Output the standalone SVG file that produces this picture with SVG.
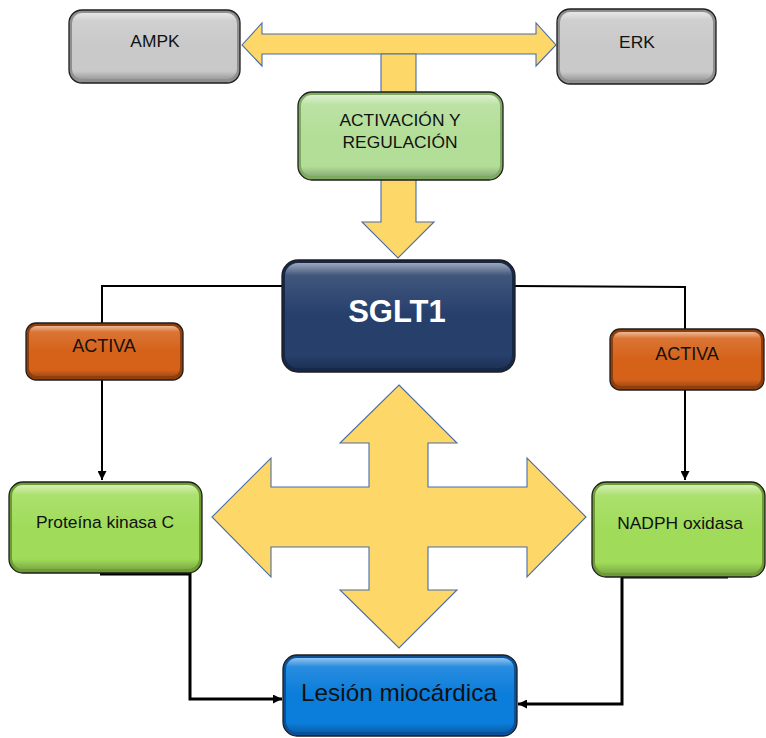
<svg xmlns="http://www.w3.org/2000/svg" width="766" height="738" viewBox="0 0 766 738">
  <defs>
    <linearGradient id="bevel" x1="0" y1="0" x2="0" y2="1">
      <stop offset="0" stop-color="#ffffff" stop-opacity="0.55"/>
      <stop offset="0.12" stop-color="#ffffff" stop-opacity="0.12"/>
      <stop offset="0.5" stop-color="#ffffff" stop-opacity="0"/>
      <stop offset="0.88" stop-color="#000000" stop-opacity="0"/>
      <stop offset="1" stop-color="#000000" stop-opacity="0.22"/>
    </linearGradient>
    <marker id="head" viewBox="0 0 10 10" refX="10" refY="5" markerWidth="9" markerHeight="9" markerUnits="userSpaceOnUse" orient="auto">
      <path d="M0,0 L10,5 L0,10 z" fill="#000"/>
    </marker>
    <style>
      .frame { stroke: #1e1e1e; stroke-width: 1.3; }
      .face { stroke: none; }
      .gloss { fill: url(#bevel); stroke: none; }
      .gray .frame { fill: #8f8f8f; } .gray .face { fill: #c9c9c9; }
      .lgreen .frame { fill: #7faa62; } .lgreen .face { fill: #b3de98; }
      .navy .frame { fill: #16284a; } .navy .face { fill: #263f6b; }
      .orange .frame { fill: #8f3e0c; } .orange .face { fill: #d6621a; }
      .green .frame { fill: #6d9c33; } .green .face { fill: #a0dc5a; }
      .blue .frame { fill: #0a519a; } .blue .face { fill: #0b7ddb; }
      text { font-family: "Liberation Sans", Arial, sans-serif; text-anchor: middle; fill: #111; }
      .lbl { font-size: 17.4px; }
      .big { font-size: 31px; font-weight: bold; fill: #ffffff; }
      .mid { font-size: 24.3px; }
      .yarrow { fill: #fdd768; stroke: #4a6da8; stroke-width: 1.1; stroke-linejoin: miter; }
      .wire { fill: none; stroke: #000; stroke-width: 2; }
      .wire3 { fill: none; stroke: #000; stroke-width: 3; }
    </style>
  </defs>

  <!-- yellow block arrows -->
  <g id="arrows">
    <path class="yarrow" d="M242,45 L262,23 L262,34 L536,34 L536,23 L556,45 L536,66 L536,54 L262,54 L262,66 Z"/>
    <path class="yarrow" d="M381,54 L416,54 L416,222 L434,222 L398,258 L362,222 L381,222 Z"/>
    <path class="yarrow" d="M399,385 L457,443 L428,443 L428,487 L527,487 L527,458 L586,517 L527,577 L527,547 L428,547 L428,590 L457,590 L399,648 L340,590 L369,590 L369,547 L271,547 L271,577 L212,517 L271,458 L271,487 L369,487 L369,443 L340,443 Z"/>
  </g>

  <!-- connectors -->
  <g id="connectors">
    <path class="wire" d="M282,286 L102,286 L102,323"/>
    <path class="wire" d="M102,380 L102,480" marker-end="url(#head)"/>
    <path class="wire" d="M515,286 L685,287 L685,329"/>
    <path class="wire" d="M685,390 L685,480" marker-end="url(#head)"/>
    <path class="wire3" d="M100,574 L190,574 L190,699 L282,699" marker-end="url(#head)"/>
    <path class="wire3" d="M728,577 L622,577 L622,704 L518,704" marker-end="url(#head)"/>
  </g>

  <g id="ampk" class="gray">
    <rect class="frame" x="69" y="10" width="171" height="73" rx="13"/>
    <rect class="face" x="72" y="13" width="165" height="66" rx="10"/>
    <rect class="gloss" x="72" y="13" width="165" height="66" rx="10"/>
    <text class="lbl" x="155" y="47">AMPK</text>
  </g>

  <g id="erk" class="gray">
    <rect class="frame" x="557" y="9" width="159" height="75" rx="13"/>
    <rect class="face" x="560" y="12" width="153" height="68" rx="10"/>
    <rect class="gloss" x="560" y="12" width="153" height="68" rx="10"/>
    <text class="lbl" x="637" y="48">ERK</text>
  </g>

  <g id="activacion" class="lgreen">
    <rect class="frame" x="298" y="92" width="205" height="88" rx="14"/>
    <rect class="face" x="301" y="95" width="199" height="81" rx="11"/>
    <rect class="gloss" x="301" y="95" width="199" height="81" rx="11"/>
    <text class="lbl" x="400" y="126">ACTIVACIÓN Y</text>
    <text class="lbl" x="400" y="148">REGULACIÓN</text>
  </g>

  <g id="sglt1" class="navy">
    <rect class="frame" x="282" y="260" width="233" height="112" rx="16"/>
    <rect class="face" x="285" y="263" width="227" height="105" rx="13"/>
    <rect class="gloss" x="285" y="263" width="227" height="105" rx="13"/>
    <text class="big" x="397" y="322">SGLT1</text>
  </g>

  <g id="activa-left" class="orange">
    <rect class="frame" x="26" y="323" width="157" height="57" rx="10"/>
    <rect class="face" x="29" y="326" width="151" height="50" rx="8"/>
    <rect class="gloss" x="29" y="326" width="151" height="50" rx="8"/>
    <text class="lbl" x="104" y="352" style="font-size:18px">ACTIVA</text>
  </g>

  <g id="activa-right" class="orange">
    <rect class="frame" x="610" y="329" width="154" height="61" rx="10"/>
    <rect class="face" x="613" y="332" width="148" height="54" rx="8"/>
    <rect class="gloss" x="613" y="332" width="148" height="54" rx="8"/>
    <text class="lbl" x="687" y="360" style="font-size:18px">ACTIVA</text>
  </g>

  <g id="pkc" class="green">
    <rect class="frame" x="9" y="482" width="193" height="91" rx="14"/>
    <rect class="face" x="12" y="485" width="187" height="84" rx="11"/>
    <rect class="gloss" x="12" y="485" width="187" height="84" rx="11"/>
    <text class="lbl" x="105" y="528">Proteína kinasa C</text>
  </g>

  <g id="nadph" class="green">
    <rect class="frame" x="592" y="482" width="173" height="95" rx="14"/>
    <rect class="face" x="595" y="485" width="167" height="88" rx="11"/>
    <rect class="gloss" x="595" y="485" width="167" height="88" rx="11"/>
    <text class="lbl" x="680" y="529">NADPH oxidasa</text>
  </g>

  <g id="lesion" class="blue">
    <rect class="frame" x="283" y="655" width="234" height="81" rx="14"/>
    <rect class="face" x="286" y="658" width="228" height="74" rx="11"/>
    <rect class="gloss" x="286" y="658" width="228" height="74" rx="11"/>
    <text class="mid" x="399" y="701">Lesión miocárdica</text>
  </g>
</svg>
